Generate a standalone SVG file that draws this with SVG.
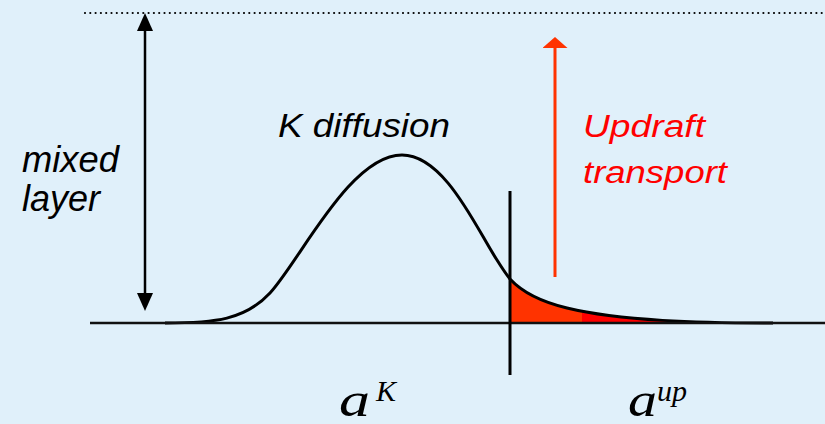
<svg xmlns="http://www.w3.org/2000/svg" width="825" height="424" viewBox="0 0 825 424">
<defs>
<style>
.lbl{font-family:"Liberation Sans",Arial,sans-serif;font-style:italic;}
.math{font-family:"Liberation Serif","Times New Roman",serif;font-style:italic;fill:#000;}
.blk{stroke:#000;fill:none;}
</style>
<marker id="ah" viewBox="0 0 18 16" refX="11" refY="8" markerWidth="18" markerHeight="16" markerUnits="userSpaceOnUse" orient="auto-start-reverse">
<path d="M0,0 L18,8 L0,16 z" fill="#000"/>
</marker>
<marker id="ahr" viewBox="0 0 11 25" refX="2" refY="12.5" markerWidth="11" markerHeight="25" markerUnits="userSpaceOnUse" orient="auto">
<path d="M0,0 L11,12.5 L0,25 z" fill="#ff3300"/>
</marker>
<linearGradient id="tail" gradientUnits="userSpaceOnUse" x1="510" y1="0" x2="773" y2="0">
<stop offset="0" stop-color="#ff3300"/>
<stop offset="0.274" stop-color="#ff3300"/>
<stop offset="0.274" stop-color="#ff0000"/>
<stop offset="1" stop-color="#ff0000"/>
</linearGradient>
</defs>
<rect width="825" height="424" fill="#e0f0fa"/>
<g id="tail-area">
<path d="M510,323 L510,279 C522,292 542,302 567,308 C620,321 700,323 773,323 Z" fill="url(#tail)"/>
</g>
<g id="distribution">
<path class="blk" stroke-width="3" d="M165,323 C215,323 245,320 270,293 C300,260.6 350,155 402,155 C445,155 477,230 497,260 C502,268 506,274 510,279 C522,292 542,302 567,308 C620,321 700,323 773,323"/>
</g>
<g id="axes">
<line x1="90" y1="323" x2="825" y2="323" stroke="#111" stroke-width="2.5"/>
<line x1="510" y1="191" x2="510" y2="375" stroke="#000" stroke-width="3"/>
<line x1="85" y1="13" x2="825" y2="13" stroke="#000" stroke-width="2.2" stroke-linecap="round" stroke-dasharray="0 5.3"/>
</g>
<g id="connectors">
<line x1="145" y1="20" x2="145" y2="304" stroke="#000" stroke-width="2.5" marker-start="url(#ah)" marker-end="url(#ah)"/>
<line x1="555" y1="277" x2="555" y2="46" stroke="#ff3300" stroke-width="3" marker-end="url(#ahr)"/>
</g>
<g id="mixed-layer">
<text class="lbl" x="22" y="172" font-size="36" textLength="97" lengthAdjust="spacingAndGlyphs">mixed</text>
<text class="lbl" x="22" y="211" font-size="36">layer</text>
</g>
<g id="k-diffusion">
<text class="lbl" x="278" y="137" font-size="33" textLength="172" lengthAdjust="spacingAndGlyphs">K diffusion</text>
</g>
<g id="updraft">
<text class="lbl" x="583" y="137" font-size="31" fill="#ff0000" textLength="122" lengthAdjust="spacingAndGlyphs">Updraft</text>
<text class="lbl" x="583" y="183" font-size="31" fill="#ff0000" textLength="144" lengthAdjust="spacingAndGlyphs">transport</text>
</g>
<g id="a-k">
<text class="math" x="339" y="416" font-size="48" textLength="31" lengthAdjust="spacingAndGlyphs">a</text>
<text class="math" x="376" y="401" font-size="30">K</text>
</g>
<g id="a-up">
<text class="math" x="628" y="416" font-size="48" textLength="29" lengthAdjust="spacingAndGlyphs">a</text>
<text class="math" x="657" y="401" font-size="30">up</text>
</g>
</svg>
